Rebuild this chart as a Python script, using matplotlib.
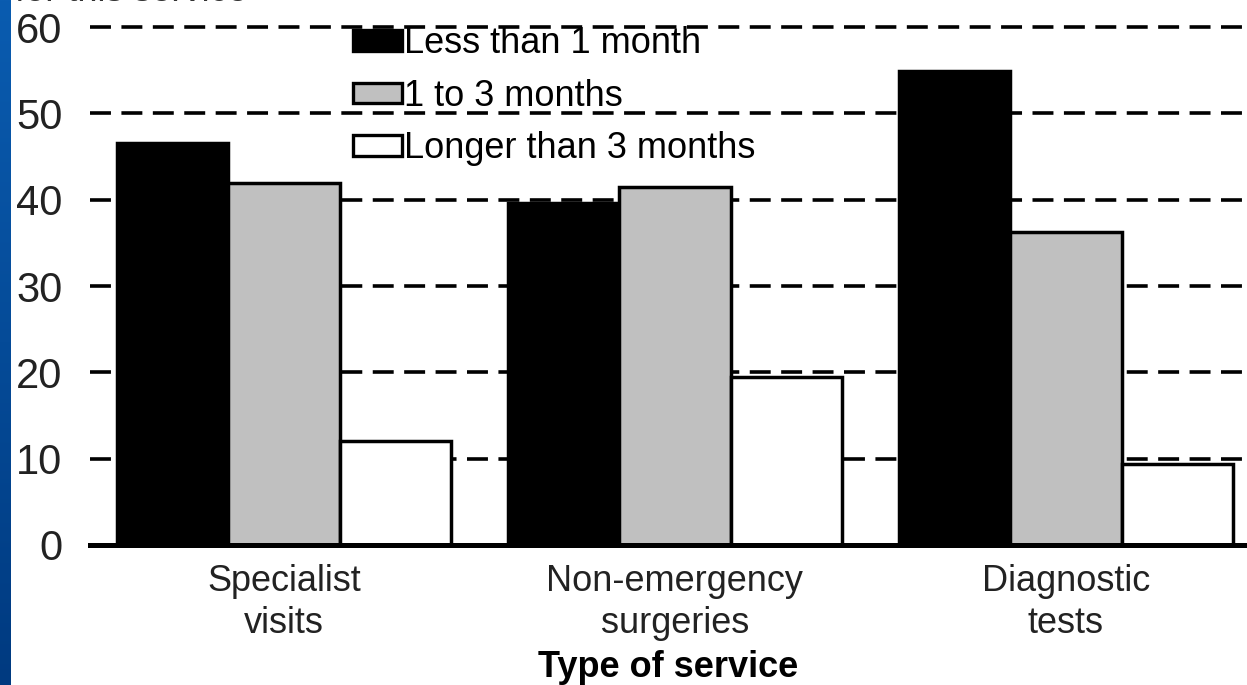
import matplotlib
matplotlib.use("Agg")
import matplotlib.pyplot as plt
import numpy as np
from matplotlib.patches import Patch

plt.rcParams['font.family'] = ['Liberation Sans', 'DejaVu Sans']

categories = ["Specialist\nvisits", "Non-emergency\nsurgeries", "Diagnostic\ntests"]
series_names = ["Less than 1 month", "1 to 3 months", "Longer than 3 months"]
less_than_1 = [46.6, 39.6, 54.9]
one_to_3 = [41.9, 41.5, 36.3]
longer_3 = [12.0, 19.5, 9.4]
yticks = [0, 10, 20, 30, 40, 50, 60]
colors = ["#000000", "#c0c0c0", "#ffffff"]

W, H = 1247, 685
fig = plt.figure(figsize=(W / 100, H / 100), dpi=100)
fig.patch.set_facecolor("white")

# blue slide strip at left
strip = fig.add_axes([0, 0, 11 / W, 1])
grad = np.linspace(0, 1, 256).reshape(-1, 1)
strip.imshow(grad, aspect="auto", cmap=matplotlib.colors.LinearSegmentedColormap.from_list(
    "b", ["#0a5cb0", "#003a80"]), extent=[0, 1, 0, 1])
strip.set_axis_off()

ax = fig.add_axes([90 / W, 1 - 545 / H, 1 - 90 / W, 545 / H])
ax.set_xlim(-0.496, 2.463)
ax.set_ylim(0, 63.15)
ax.patch.set_alpha(0)

x = np.arange(len(categories))
bw = 0.285
for i, (vals, c) in enumerate(zip([less_than_1, one_to_3, longer_3], colors)):
    ax.bar(x + (i - 1) * bw, vals, width=bw, color=c, edgecolor="black",
           linewidth=2.5, zorder=3, label=series_names[i])

for yv in yticks[1:]:
    ax.axhline(yv, color="black", lw=2.6, linestyle=(0, (5.8, 2.9)), zorder=1)
ax.axhline(0, color="black", lw=3.6, zorder=4, clip_on=False)

for s in ax.spines.values():
    s.set_visible(False)
ax.set_yticks(yticks)
ax.set_yticklabels([str(v) for v in yticks], fontsize=30, color="#222222")
ax.tick_params(axis="y", length=0, pad=20)
ax.set_xticks(x)
ax.set_xticklabels(categories, fontsize=26, linespacing=1.25, color="#222222")
ax.tick_params(axis="x", length=0, pad=14)
ax.set_xlabel("Type of service", fontsize=26, fontweight="bold", labelpad=6)

handles = [Patch(facecolor=c, edgecolor="black", linewidth=2.4) for c in colors]
leg = ax.legend(handles, series_names, loc="upper left", bbox_to_anchor=(346 / W, 0.972),
                bbox_transform=fig.transFigure, frameon=False, fontsize=26,
                handlelength=1.35, handleheight=0.5, handletextpad=0.05,
                labelspacing=0.48, borderpad=0.2, borderaxespad=0)
leg.set_zorder(5)

fig.text(15 / W, 1.0 + 0.012, "for this service", fontsize=26, color="#333333",
         ha="left", va="center")

fig.savefig("out.png", dpi=100)
